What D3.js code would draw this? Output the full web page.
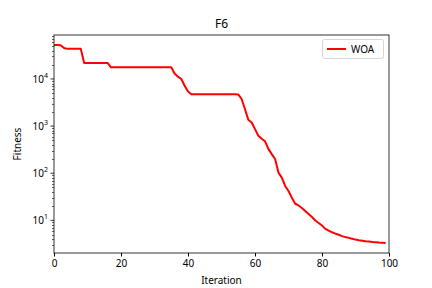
<!DOCTYPE html>
<html>
<head>
<meta charset="utf-8">
<script src="https://cdn.jsdelivr.net/npm/d3@7"></script>
<style>
  body { margin: 0; background: #fff; }
  text { font-family: "Noto Sans", "Open Sans", sans-serif; }
</style>
</head>
<body>
<div id="chart"></div>
<script>
const width = 432, height = 288, margin = {top: 35, right: 43, bottom: 35, left: 54};

// WOA convergence curve (best fitness per iteration)
const iterations = d3.range(0, 100);
const fitness = [
    52800, 52800, 52000, 45200, 43500, 43500, 43500, 43500, 43500, 21900,
    21900, 21900, 21900, 21900, 21900, 21900, 21900, 17650, 17650, 17650,
    17650, 17650, 17650, 17650, 17650, 17650, 17650, 17650, 17650, 17650,
    17650, 17650, 17650, 17650, 17650, 17650, 13000, 11200, 10000, 7200,
    5400, 4750, 4750, 4750, 4750, 4750, 4750, 4750, 4750, 4750,
    4750, 4750, 4750, 4750, 4750, 4700, 3750, 2300, 1360, 1195,
    863, 622, 537, 475, 329, 254, 200, 103, 80.6, 53.7,
    42, 30.3, 22.5, 20.7, 18.3, 15.8, 13.6, 11.8, 9.9, 8.8,
    7.75, 6.6, 6.07, 5.58, 5.24, 4.94, 4.63, 4.41, 4.24, 4.06,
    3.9, 3.79, 3.7, 3.59, 3.54, 3.47, 3.42, 3.37, 3.34, 3.29
];
const xTicks = [0, 20, 40, 60, 80, 100];
const yDecades = [1, 2, 3, 4];
const seriesName = "WOA";

const data = iterations.map((it, i) => ({it: it, v: fitness[i]}));

const svg = d3.select('#chart').append('svg')
    .attr('width', width)
    .attr('height', height);

// log axis padded by 5% of the log range, like matplotlib autoscale
const lo = Math.log10(d3.min(fitness)), hi = Math.log10(d3.max(fitness));
const pad = (hi - lo) * 0.05;

const x = d3.scaleLinear()
    .domain([0, 100])
    .range([margin.left, width - margin.right]);

const y = d3.scaleLog()
    .domain([Math.pow(10, lo - pad), Math.pow(10, hi + pad)])
    .range([height - margin.bottom, margin.top]);

// x axis
const xAxis = svg.append("g")
    .attr("transform", `translate(0,${height - margin.bottom})`)
    .call(d3.axisBottom(x).tickValues(xTicks).tickSize(3.5).tickPadding(3.5));
xAxis.select(".domain").remove();
xAxis.selectAll("text").attr("font-size", 10).attr("fill", "#000").style("font-family", "Noto Sans");

// y axis: minor ticks
const minor = [];
for (let e = 0; e <= 4; e++) {
    for (let m = 2; m <= 9; m++) {
        const v = m * Math.pow(10, e);
        if (v >= y.domain()[0] && v <= y.domain()[1]) minor.push(v);
    }
}
svg.append("g").selectAll("line")
    .data(minor)
    .enter().append("line")
    .attr("x1", margin.left - 2).attr("x2", margin.left)
    .attr("y1", d => Math.round(y(d)) + 0.5).attr("y2", d => Math.round(y(d)) + 0.5)
    .attr("stroke", "#000").attr("stroke-width", 0.6);

// y axis: major ticks and labels
const major = svg.append("g").selectAll("g")
    .data(yDecades)
    .enter().append("g")
    .attr("transform", d => `translate(0,${y(Math.pow(10, d))})`);
major.append("line")
    .attr("x1", margin.left - 3.5).attr("x2", margin.left)
    .attr("stroke", "#000").attr("stroke-width", 0.8);
const lbl = major.append("text")
    .attr("x", margin.left - 6)
    .attr("y", 4)
    .attr("text-anchor", "end")
    .attr("font-size", 10);
lbl.append("tspan").text("10");
lbl.append("tspan").attr("dy", -5).attr("font-size", 7).text(d => d);

// line
const line = d3.line()
    .x(d => x(d.it))
    .y(d => y(d.v));

svg.append("path")
    .datum(data)
    .attr("fill", "none")
    .attr("stroke", "red")
    .attr("stroke-width", 2)
    .attr("stroke-linejoin", "round")
    .attr("d", line);

// frame
svg.append("rect")
    .attr("x", margin.left).attr("y", margin.top)
    .attr("width", width - margin.left - margin.right)
    .attr("height", height - margin.top - margin.bottom)
    .attr("fill", "none").attr("stroke", "#000").attr("stroke-width", 0.8);

// title and labels
svg.append("text")
    .attr("x", (margin.left + width - margin.right) / 2)
    .attr("y", 28)
    .attr("text-anchor", "middle")
    .attr("font-size", 12)
    .text("F6");

svg.append("text")
    .attr("x", (margin.left + width - margin.right) / 2)
    .attr("y", 284)
    .attr("text-anchor", "middle")
    .attr("font-size", 10)
    .text("Iteration");

svg.append("text")
    .attr("transform", `translate(21,${(margin.top + height - margin.bottom) / 2}) rotate(-90)`)
    .attr("text-anchor", "middle")
    .attr("font-size", 10)
    .text("Fitness");

// legend
const lg = svg.append("g");
lg.append("rect")
    .attr("x", 322.5).attr("y", 39.5)
    .attr("width", 61).attr("height", 19)
    .attr("rx", 2)
    .attr("fill", "#fff").attr("stroke", "#ccc").attr("stroke-width", 0.8);
lg.append("line")
    .attr("x1", 327).attr("x2", 346)
    .attr("y1", 49).attr("y2", 49)
    .attr("stroke", "red").attr("stroke-width", 2);
lg.append("text")
    .attr("x", 351).attr("y", 52.5)
    .attr("font-size", 10)
    .text(seriesName);
</script>
</body>
</html>
